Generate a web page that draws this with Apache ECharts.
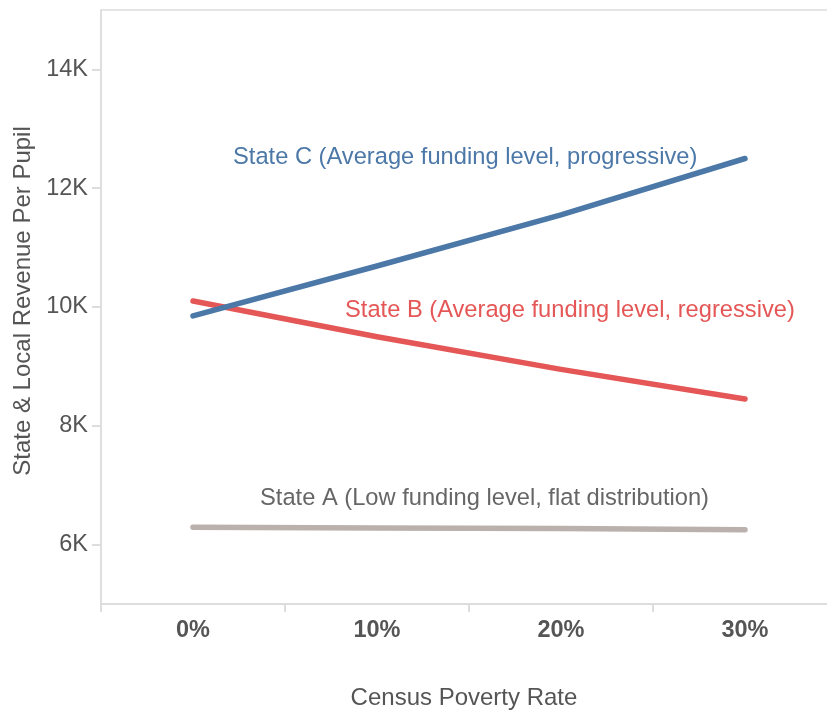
<!DOCTYPE html>
<html>
<head>
<meta charset="utf-8">
<script src="https://cdn.jsdelivr.net/npm/echarts@6/dist/echarts.min.js"></script>
<style>html,body{margin:0;padding:0;background:#fff}#chart{width:827px;height:711px}</style>
</head>
<body>
<div id="chart"></div>
<script>
const categories = ['0%', '10%', '20%', '30%'];
const stateA = [6290, 6280, 6270, 6250];
const stateB = [10100, 9500, 8950, 8450];
const stateC = [9850, 10690, 11550, 12500];
const yTicks = [6000, 8000, 10000, 12000, 14000];
const labelA = 'State A (Low funding level, flat distribution)';
const labelB = 'State B (Average funding level, regressive)';
const labelC = 'State C (Average funding level, progressive)';

const FONT = '"Liberation Sans", Arial, Helvetica, sans-serif';
const chart = echarts.init(document.getElementById('chart'), null, {renderer: 'canvas'});

function lineSeries(name, data, color) {
  return {
    name, type: 'line', data, showSymbol: false, smooth: false,
    lineStyle: {color, width: 5.5, cap: 'round', join: 'round'},
    itemStyle: {color}, animation: false, z: 3
  };
}

chart.setOption({
  animation: false,
  grid: {left: 101, top: 10, right: -10, bottom: 107, show: true, borderColor: '#dddddd', borderWidth: 1.5,
    containLabel: false, outerBoundsMode: 'none'},
  xAxis: {
    type: 'category', data: categories, boundaryGap: true,
    name: 'Census Poverty Rate', nameLocation: 'middle', nameGap: 82,
    nameTextStyle: {fontFamily: FONT, fontSize: 24, color: '#555555', padding: [0, 10, 0, 0]},
    axisLine: {show: true, lineStyle: {color: '#dddddd', width: 2}},
    axisTick: {show: true, length: 8, alignWithLabel: false, lineStyle: {color: '#dddddd', width: 2}},
    axisLabel: {fontFamily: FONT, fontSize: 23.5, fontWeight: 'bold', color: '#555555', margin: 15},
    splitLine: {show: false}
  },
  yAxis: {
    type: 'value', min: 5000, max: 15000, interval: 1000,
    name: 'State & Local Revenue Per Pupil', nameLocation: 'middle', nameGap: 59, nameRotate: 90,
    nameTextStyle: {fontFamily: FONT, fontSize: 24, color: '#555555', padding: [0, 0, 0, 12]},
    axisLine: {show: true, lineStyle: {color: '#dddddd', width: 1.5}},
    axisTick: {show: true, length: 9, lineStyle: {color: '#dddddd', width: 2},
      customValues: yTicks},
    axisLabel: {fontFamily: FONT, fontSize: 23.5, color: '#555555', margin: 13,
      customValues: yTicks,
      formatter: v => (v / 1000) + 'K'},
    splitLine: {show: false}
  },
  series: [
    lineSeries('State A', stateA, '#bab0ac'),
    lineSeries('State B', stateB, '#e45756'),
    lineSeries('State C', stateC, '#4c78a8')
  ],
  graphic: [
    {type: 'text', left: 233, top: 145, style: {text: labelC, font: '23.7px ' + FONT, fill: '#4c78a8'}},
    {type: 'text', left: 345, top: 298, style: {text: labelB, font: '23.7px ' + FONT, fill: '#e45756'}},
    {type: 'text', left: 260, top: 486, style: {text: labelA, font: '23.7px ' + FONT, fill: '#666666'}}
  ]
});
</script>
</body>
</html>
